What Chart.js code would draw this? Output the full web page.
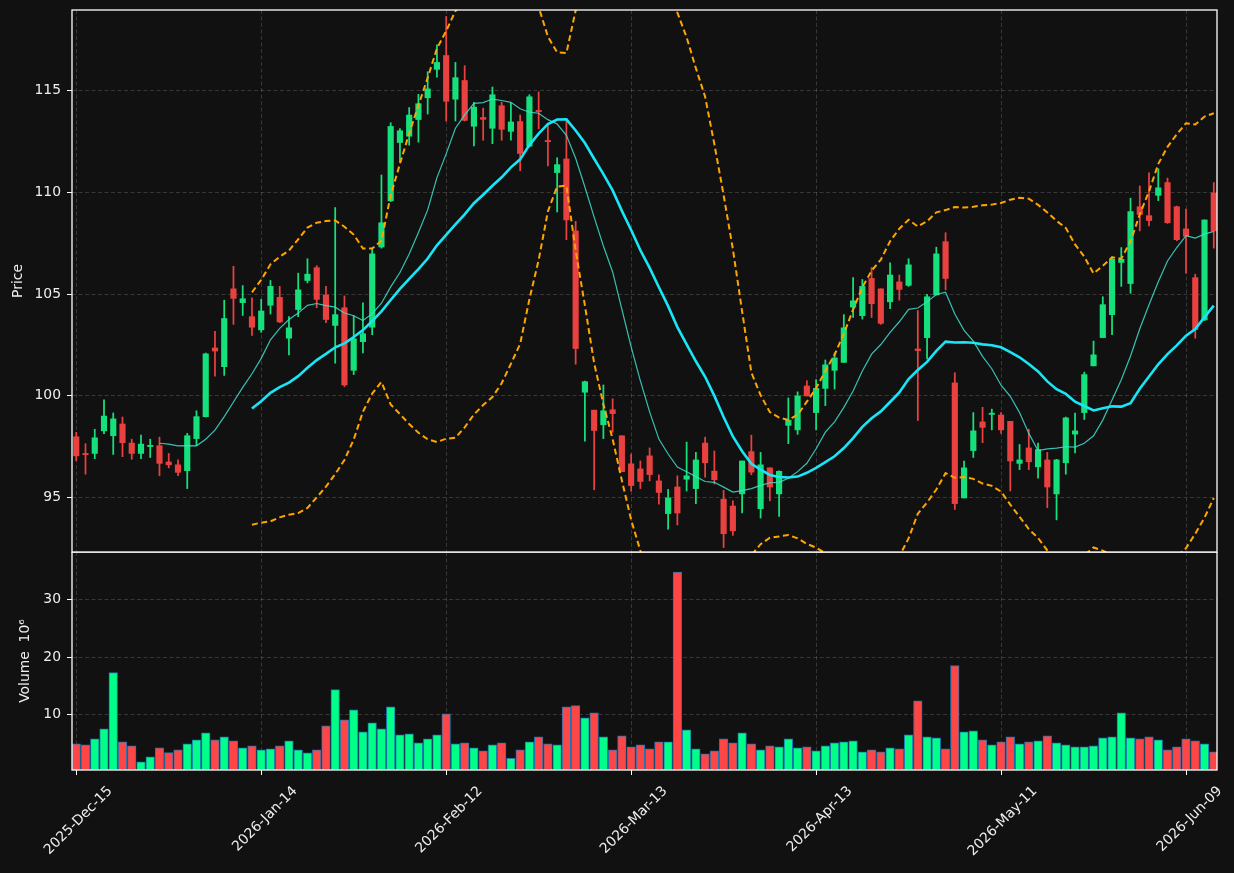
<!DOCTYPE html>
<html>
<head>
<meta charset="utf-8">
<script src="https://cdn.jsdelivr.net/npm/chart.js@4.4.1/dist/chart.umd.min.js"></script>
<style>
html, body { margin: 0; padding: 0; background: #111111; }
#wrap { position: relative; width: 1234px; height: 873px; overflow: hidden; }
canvas { position: absolute; left: 0; }
#price { top: 0; }
#volume { top: 552px; }
</style>
</head>
<body>
<div id="wrap">
<canvas id="price" width="1234" height="560"></canvas>
<canvas id="volume" width="1234" height="321"></canvas>
</div>
<script>
// tick labels every 20 trading days
const tickLabels = ['2025-Dec-15', '2026-Jan-14', '2026-Feb-12', '2026-Mar-13', '2026-Apr-13', '2026-May-11', '2026-Jun-09'];
const priceTicks = [95, 100, 105, 110, 115];
const volumeTicks = [10, 20, 30];

const opens = [97.98, 97.15, 97.16, 98.27, 98.03, 98.61, 97.67, 97.16, 97.50, 97.54,
	96.74, 96.60, 96.31, 97.89, 98.97, 102.35, 101.43, 105.26, 104.58, 103.89,
	103.24, 104.45, 104.84, 102.83, 104.24, 105.67, 106.30, 104.96, 103.46, 104.33,
	101.25, 102.66, 103.37, 107.32, 109.59, 112.46, 112.77, 113.59, 114.66, 116.06,
	116.74, 114.59, 115.51, 113.26, 113.69, 113.16, 114.27, 113.01, 113.49, 112.28,
	114.03, 112.55, 110.98, 111.65, 108.11, 100.17, 99.29, 98.57, 99.31, 98.03,
	96.65, 96.40, 97.04, 95.81, 94.20, 95.51, 95.89, 95.43, 97.67, 96.29,
	94.91, 94.57, 95.17, 97.25, 94.44, 96.45, 95.17, 98.54, 98.32, 100.48,
	99.17, 100.36, 101.25, 101.64, 104.36, 103.94, 105.77, 105.26, 104.62, 105.60,
	105.43, 102.30, 102.86, 104.96, 107.58, 100.63, 94.97, 97.30, 98.71, 99.08,
	99.05, 98.74, 96.67, 97.43, 96.50, 96.84, 95.17, 96.70, 98.11, 99.17,
	101.47, 102.86, 103.99, 106.56, 105.52, 109.30, 108.86, 109.86, 110.49, 109.30,
	108.21, 105.81, 103.73, 109.98];

const highs = [98.20, 97.64, 98.35, 99.80, 99.15, 98.95, 97.86, 98.06, 97.86, 97.96,
	97.16, 96.84, 98.15, 99.26, 102.10, 103.17, 104.70, 106.37, 105.42, 104.82,
	104.74, 105.67, 105.38, 103.90, 106.03, 106.74, 106.40, 105.38, 109.26, 104.91,
	103.94, 104.57, 107.26, 110.86, 113.43, 113.14, 114.18, 114.83, 115.94, 117.26,
	118.66, 116.40, 116.24, 114.44, 114.15, 115.19, 114.44, 114.40, 113.81, 114.81,
	114.95, 113.33, 111.71, 113.64, 108.58, 100.72, 99.29, 100.53, 99.85, 98.03,
	97.13, 96.79, 97.43, 96.11, 95.39, 96.06, 97.72, 97.21, 97.96, 97.28,
	95.34, 94.83, 96.79, 98.06, 97.21, 96.45, 96.31, 99.89, 100.19, 100.74,
	100.79, 101.76, 102.10, 103.99, 105.81, 105.72, 106.31, 105.26, 106.54, 105.94,
	106.74, 104.19, 104.99, 107.31, 108.02, 101.13, 96.79, 99.17, 99.43, 99.34,
	99.17, 98.74, 97.60, 98.35, 97.67, 97.21, 96.87, 98.95, 99.14, 101.16,
	102.69, 104.87, 106.83, 107.29, 109.72, 110.32, 110.97, 111.17, 110.71, 109.33,
	109.18, 105.98, 108.65, 110.49];

const lows = [96.80, 96.14, 96.90, 98.13, 97.11, 97.00, 96.87, 96.90, 96.96, 96.07,
	96.45, 96.07, 95.43, 97.55, 98.95, 100.96, 101.00, 103.51, 103.95, 102.97,
	103.12, 104.02, 103.60, 102.01, 103.89, 105.55, 104.33, 103.60, 101.60, 100.45,
	101.04, 102.10, 103.00, 107.26, 109.55, 111.51, 112.33, 112.48, 113.86, 115.68,
	113.52, 113.52, 113.52, 112.29, 112.57, 112.40, 112.57, 112.57, 111.07, 112.24,
	113.13, 111.31, 109.04, 107.68, 101.55, 97.76, 95.37, 97.89, 98.20, 96.26,
	95.31, 95.43, 95.81, 94.66, 93.43, 93.64, 95.31, 94.69, 95.99, 95.65,
	92.53, 93.13, 94.23, 96.11, 93.98, 94.83, 94.06, 97.64, 98.10, 99.99,
	98.32, 99.51, 100.33, 101.64, 103.85, 103.77, 103.85, 103.51, 104.28, 104.70,
	105.38, 98.78, 101.81, 104.96, 105.21, 94.40, 94.97, 96.96, 97.69, 98.32,
	98.15, 95.31, 96.36, 96.36, 95.94, 94.49, 93.89, 96.14, 97.18, 98.83,
	101.47, 102.86, 103.00, 105.38, 105.04, 108.11, 108.36, 109.60, 108.48, 107.63,
	106.03, 102.83, 103.70, 107.26];

const closes = [97.04, 97.10, 97.93, 99.00, 98.86, 97.69, 97.16, 97.62, 97.54, 96.67,
	96.60, 96.23, 98.03, 98.97, 102.06, 102.20, 103.80, 104.79, 104.77, 103.37,
	104.17, 105.38, 103.63, 103.34, 105.21, 105.98, 104.74, 103.75, 103.99, 100.53,
	102.80, 103.05, 106.98, 108.51, 113.25, 113.04, 113.81, 114.37, 115.10, 116.40,
	114.49, 115.65, 113.55, 114.20, 113.60, 114.81, 113.11, 113.47, 111.92, 114.71,
	113.98, 112.50, 111.37, 108.65, 102.32, 100.69, 98.29, 99.26, 99.12, 96.26,
	95.58, 95.78, 96.12, 95.24, 94.97, 94.23, 96.06, 96.84, 96.70, 95.87,
	93.21, 93.35, 96.79, 96.24, 96.60, 95.51, 96.28, 98.80, 99.99, 99.99,
	100.36, 101.52, 101.86, 103.34, 104.67, 105.38, 104.53, 103.56, 105.94, 105.23,
	106.44, 102.22, 104.87, 106.98, 105.77, 94.69, 96.45, 98.27, 98.44, 99.14,
	98.32, 96.79, 96.84, 96.75, 97.35, 95.51, 96.84, 98.91, 98.27, 101.04,
	102.01, 104.48, 106.71, 106.71, 109.06, 108.92, 108.62, 110.23, 108.51, 107.68,
	107.85, 103.26, 108.65, 108.11];

// millions
const volumes = [4.96, 4.78, 5.83, 7.57, 17.30, 5.30, 4.61, 1.83, 2.70, 4.26,
	3.45, 3.91, 4.96, 5.65, 6.87, 5.65, 6.17, 5.48, 4.26, 4.61,
	3.91, 4.09, 4.61, 5.48, 3.91, 3.39, 3.91, 8.09, 14.35, 9.13,
	10.87, 7.04, 8.61, 7.57, 11.39, 6.52, 6.70, 5.13, 5.83, 6.52,
	10.17, 4.96, 5.13, 4.26, 3.74, 4.78, 5.13, 2.46, 3.91, 5.30,
	6.17, 4.96, 4.78, 11.39, 11.57, 9.48, 10.35, 6.17, 3.91, 6.35,
	4.43, 4.78, 4.09, 5.30, 5.30, 34.70, 7.39, 4.09, 3.22, 3.74,
	5.83, 5.13, 6.87, 4.96, 3.91, 4.61, 4.43, 5.83, 4.26, 4.43,
	3.74, 4.61, 5.13, 5.30, 5.48, 3.57, 3.91, 3.57, 4.26, 4.09,
	6.52, 12.43, 6.17, 6.00, 4.09, 18.52, 7.04, 7.22, 5.65, 4.78,
	5.30, 6.17, 4.96, 5.30, 5.48, 6.35, 5.13, 4.78, 4.43, 4.43,
	4.61, 6.00, 6.17, 10.35, 6.00, 5.83, 6.17, 5.65, 3.91, 4.43,
	5.83, 5.48, 4.96, 3.57];

const UP = '#16e07c';
const DOWN = '#e8413f';
const VOL_UP = '#00ff88';
const VOL_DOWN = '#ff4646';
const TEXT = '#eeeeee';
const GRID = 'rgba(255,255,255,0.16)';
const X_MIN = -0.46;
const X_MAX = 123.35;

Chart.defaults.font.family = 'DejaVu Sans';
Chart.defaults.font.size = 13.9;
Chart.defaults.color = TEXT;

function sma(values, n) {
	return values.map((v, i) => {
		if (i < n - 1) return null;
		let s = 0;
		for (let k = i - n + 1; k <= i; k++) s += values[k];
		return s / n;
	});
}

function bollinger(values, n, mult) {
	const mid = sma(values, n);
	const upper = [], lower = [];
	for (let i = 0; i < values.length; i++) {
		if (mid[i] === null) { upper.push(null); lower.push(null); continue; }
		let sq = 0;
		for (let k = i - n + 1; k <= i; k++) sq += (values[k] - mid[i]) ** 2;
		const sd = Math.sqrt(sq / n);
		upper.push(mid[i] + mult * sd);
		lower.push(mid[i] - mult * sd);
	}
	return { upper, lower };
}

const ma10 = sma(closes, 10);
const ma20 = sma(closes, 20);
const bb = bollinger(closes, 20, 2);

const isUp = closes.map((c, i) => c >= opens[i]);
const candleColors = isUp.map((u) => (u ? UP : DOWN));
const volumeColors = isUp.map((u) => (u ? VOL_UP : VOL_DOWN));

const pts = (arr) => arr.map((v, i) => ({ x: i, y: v }));

// white box round each panel
const frame = {
	id: 'frame',
	afterDraw(chart) {
		const { ctx, chartArea: a } = chart;
		ctx.save();
		ctx.strokeStyle = '#ffffff';
		ctx.lineWidth = 1.3;
		ctx.strokeRect(a.left, a.top, a.right - a.left, a.bottom - a.top);
		ctx.restore();
	},
};

function xScale(showLabels) {
	return {
		type: 'linear',
		min: X_MIN,
		max: X_MAX,
		offset: false,
		afterBuildTicks: (s) => {
			s.ticks = tickLabels.map((_, k) => ({ value: k * 20 }));
		},
		ticks: {
			display: showLabels,
			autoSkip: false,
			minRotation: 45,
			maxRotation: 45,
			padding: 8,
			labelOffset: 34,
			color: TEXT,
			callback: (v) => tickLabels[Math.round(v / 20)],
		},
		grid: { color: GRID, offset: false, drawTicks: showLabels, tickLength: 5, tickColor: '#ffffff', tickBorderDash: [] },
		border: { display: false, dash: [4, 2.5] },
		afterFit: (s) => {
			s.height = showLabels ? 103 : 0;
			s.paddingLeft = 0;
			s.paddingRight = 0;
		},
	};
}

function yScale(min, max, ticks, title, titlePad) {
	return {
		position: 'left',
		min: min,
		max: max,
		afterBuildTicks: (s) => {
			s.ticks = ticks.map((v) => ({ value: v }));
		},
		ticks: { color: TEXT, padding: 6 },
		grid: { color: GRID, tickLength: 5, tickColor: '#ffffff', tickBorderDash: [] },
		border: { display: false, dash: [4, 2.5] },
		title: { display: true, text: title, color: TEXT, padding: { top: titlePad, bottom: 0 } },
		afterFit: (s) => {
			s.width = 72;
			s.paddingTop = 0;
			s.paddingBottom = 0;
		},
	};
}

var priceChart = new Chart(document.getElementById('price'), {
	type: 'bar',
	data: {
		datasets: [
			{
				type: 'line', label: 'MA10', data: pts(ma10), order: 0,
				borderColor: 'rgba(64,224,208,0.85)', borderWidth: 1.2, pointRadius: 0, tension: 0,
			},
			{
				type: 'line', label: 'MA20', data: pts(ma20), order: 0,
				borderColor: '#18e6f7', borderWidth: 2.6, pointRadius: 0, tension: 0,
			},
			{
				type: 'line', label: 'BB upper', data: pts(bb.upper), order: 0,
				borderColor: '#ffa500', borderWidth: 2, borderDash: [6, 3.5], pointRadius: 0, tension: 0,
			},
			{
				type: 'line', label: 'BB lower', data: pts(bb.lower), order: 0,
				borderColor: '#ffa500', borderWidth: 2, borderDash: [6, 3.5], pointRadius: 0, tension: 0,
			},
			{
				label: 'body', order: 1, grouped: false, barThickness: 5.5, minBarLength: 1.2,
				data: opens.map((o, i) => ({ x: i, y: [o, closes[i]] })),
				backgroundColor: candleColors, borderWidth: 0,
			},
			{
				label: 'wick', order: 2, grouped: false, barThickness: 1.1,
				data: lows.map((l, i) => ({ x: i, y: [l, highs[i]] })),
				backgroundColor: candleColors, borderWidth: 0,
			},
		],
	},
	options: {
		responsive: false,
		animation: false,
		layout: { padding: { top: 10, right: 17, bottom: 8, left: 0 } },
		plugins: { legend: { display: false }, tooltip: { enabled: false } },
		scales: {
			x: xScale(false),
			y: yScale(92.31, 118.98, priceTicks, 'Price', 10),
		},
	},
	plugins: [frame],
});

var volumeChart = new Chart(document.getElementById('volume'), {
	type: 'bar',
	data: {
		datasets: [
			{
				label: 'Volume', grouped: false, barThickness: 8.6,
				data: volumes.map((v, i) => ({ x: i, y: v })),
				backgroundColor: volumeColors, borderColor: '#1f77b4', borderWidth: 1,
			},
		],
	},
	options: {
		responsive: false,
		animation: false,
		layout: { padding: { top: 0, right: 17, bottom: 0, left: 0 } },
		plugins: { legend: { display: false }, tooltip: { enabled: false } },
		scales: {
			x: xScale(true),
			y: yScale(0.43, 38.2, volumeTicks, 'Volume  10\u2076', 17),
		},
	},
	plugins: [frame],
});
</script>
</body>
</html>
